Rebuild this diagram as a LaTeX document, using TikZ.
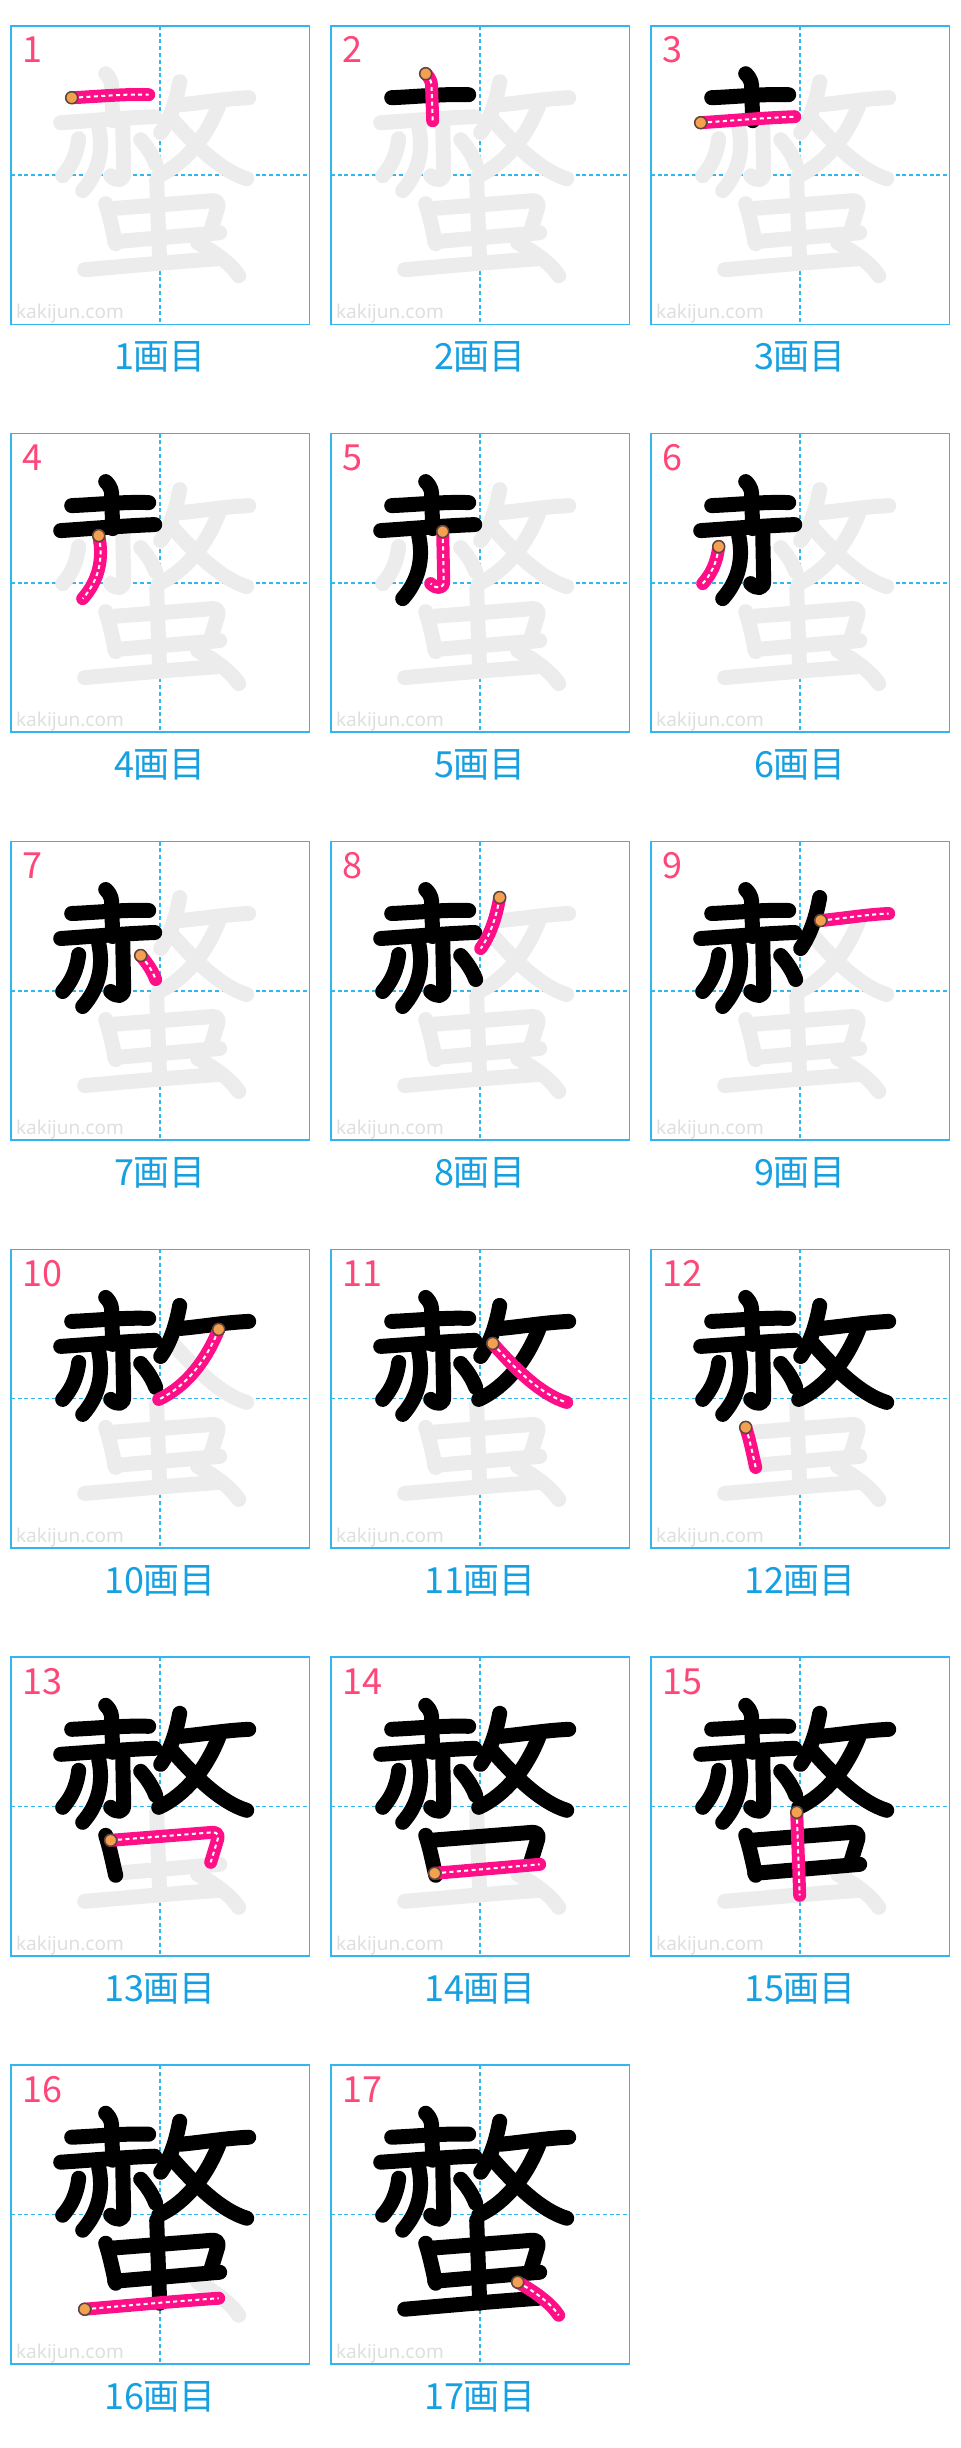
\documentclass[tikz,border=0pt]{standalone}
\usepackage{fontspec}
\setmainfont{Noto Sans}
\newfontfamily\jpfont{Noto Sans CJK JP}
\definecolor{gridblue}{RGB}{51,181,240}
\definecolor{labelblue}{RGB}{20,160,225}
\definecolor{numpink}{RGB}{255,70,120}
\definecolor{inkpink}{RGB}{255,15,135}
\definecolor{ghostgray}{RGB}{236,236,236}
\definecolor{markgray}{RGB}{222,222,222}
\definecolor{dotorange}{RGB}{245,160,80}
\definecolor{dotrim}{RGB}{90,70,60}

% stroke n: start point, rest of path (cell px, y down)
\newcommand\defstroke[3]{%
  \expandafter\def\csname kst#1\endcsname{#2}%
  \expandafter\def\csname ksr#1\endcsname{#3}}
\defstroke{1}{61,72}{.. controls (85,71) and (115,68) .. (138,69)}
\defstroke{2}{95,48}{.. controls (101,54) and (101,58) .. (101,64) -- (102,95)}
\defstroke{3}{50,97}{.. controls (80,95) and (115,92) .. (144,91)}
\defstroke{4}{88,102}{.. controls (93,125) and (88,147) .. (72,165)}
\defstroke{5}{112,98}{-- (113,148) .. controls (113,155) and (106,156) .. (100,150)}
\defstroke{6}{68,113}{.. controls (66,130) and (60,141) .. (52,150)}
\defstroke{7}{130,114}{.. controls (137,122) and (142,130) .. (145,138)}
\defstroke{8}{169,56}{.. controls (165,78) and (159,94) .. (150,107)}
\defstroke{9}{170,79}{.. controls (192,77) and (215,73) .. (238,72)}
\defstroke{10}{208,80}{.. controls (196,110) and (176,137) .. (148,150)}
\defstroke{11}{162,94}{.. controls (185,120) and (210,145) .. (236,153)}
\defstroke{12}{95,178}{.. controls (99,190) and (102,205) .. (105,218)}
\defstroke{13}{100,183}{-- (202,175) .. controls (207,175) and (208,178) .. (207,182) -- (200,205)}
\defstroke{14}{104,216}{-- (209,207)}
\defstroke{15}{146,155}{-- (149,238)}
\defstroke{16}{74,244}{.. controls (120,240) and (165,236) .. (208,233)}
\defstroke{17}{187,217}{.. controls (205,227) and (220,238) .. (228,250)}

\begin{document}
\begin{tikzpicture}[x=0.5pt,y=-0.5pt,
    cellframe/.style={draw=gridblue, line width=0.85pt},
    centerline/.style={draw=gridblue, line width=0.75pt, dash pattern=on 2pt off 1.4pt},
    ghoststroke/.style={draw=ghostgray, line width=7.5pt, line cap=round, line join=round},
    inkstroke/.style={draw=black, line width=7.5pt, line cap=round, line join=round},
    pinkstroke/.style={draw=inkpink, line width=6.5pt, line cap=round, line join=round},
    pinkdots/.style={draw=white, line width=1pt, dash pattern=on 2pt off 1.7pt},
    startdot/.style={fill=dotorange, draw=dotrim, line width=0.75pt},
    cornernum/.style={text=numpink, font=\jpfont\fontsize{18pt}{18pt}\selectfont, inner sep=0pt, anchor=base west},
    steplabel/.style={text=labelblue, font=\jpfont\fontsize{18pt}{18pt}\selectfont, inner sep=0pt, anchor=base},
    watermark/.style={text=markgray, font=\fontsize{9.5pt}{9.5pt}\selectfont, inner sep=0pt, anchor=base west}]
  \useasboundingbox (0,0) rectangle (960,2448);
  \foreach \n in {1,...,17}{
    \pgfmathtruncatemacro\col{mod(\n-1,3)}
    \pgfmathtruncatemacro\row{div(\n-1,3)}
    \begin{scope}[shift={(10.7+320*\col,25.7+407.9*\row)}]
      % frame and guides
      \draw[centerline] (149.3,0) -- (149.3,298.7);
      \draw[centerline] (0,149.3) -- (298.7,149.3);
      \draw[cellframe] (0,0) rectangle (298.7,298.7);
      \node[watermark] (mark\n) at (5,293) {kakijun.com};
      % strokes still to come
      \foreach \k in {1,...,17}{
        \ifnum\k>\n
          \edef\kp{(\csname kst\k\endcsname) \csname ksr\k\endcsname}
          \draw[ghoststroke] \kp;
        \fi
      }
      % strokes already written
      \foreach \k in {1,...,17}{
        \ifnum\k<\n
          \edef\kp{(\csname kst\k\endcsname) \csname ksr\k\endcsname}
          \draw[inkstroke] \kp;
        \fi
      }
      % current stroke
      \edef\kp{(\csname kst\n\endcsname) \csname ksr\n\endcsname}
      \draw[pinkstroke] \kp;
      \draw[pinkdots] \kp;
      \edef\ks{\csname kst\n\endcsname}
      \draw[startdot] (\ks) circle (6);
      \node[cornernum] (num\n) at (11,37) {\n};
      \node[steplabel] (label\n) at (149.3,344) {{\n}画目};
    \end{scope}
  }
\end{tikzpicture}
\end{document}
